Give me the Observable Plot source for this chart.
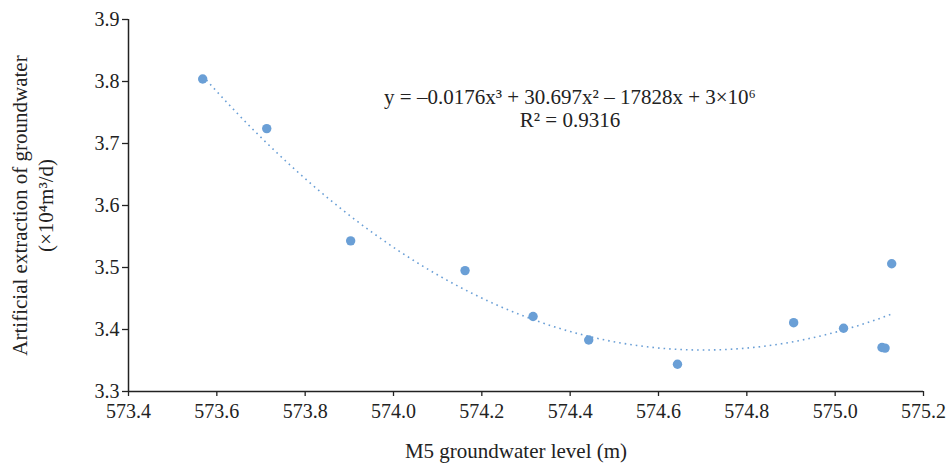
<!DOCTYPE html>
<html>
<head>
<meta charset="utf-8">
<script src="https://cdn.jsdelivr.net/npm/d3@7"></script>
<script src="https://cdn.jsdelivr.net/npm/@observablehq/plot@0.6"></script>
<style>
  html, body { margin: 0; padding: 0; background: #fff; }
  #chart { width: 950px; height: 475px; }
</style>
</head>
<body>
<div id="chart"></div>
<script>
const level = [573.568, 573.713, 573.903, 574.162, 574.316, 574.442, 574.643, 574.906, 575.019, 575.106, 575.113, 575.128];
const extraction = [3.804, 3.724, 3.543, 3.495, 3.421, 3.383, 3.344, 3.411, 3.402, 3.371, 3.370, 3.506];
const xTicks = [573.4, 573.6, 573.8, 574.0, 574.2, 574.4, 574.6, 574.8, 575.0, 575.2];
const yTicks = [3.3, 3.4, 3.5, 3.6, 3.7, 3.8, 3.9];
const equationText = "y = –0.0176x³ + 30.697x² – 17828x + 3×10⁶";
const r2Text = "R² = 0.9316";
const xLabel = "M5 groundwater level (m)";
const yLabel = "Artificial extraction of groundwater\n(×10⁴m³/d)";

const data = level.map((x, i) => ({x, y: extraction[i]}));

// Least-squares cubic trendline fitted to the observed data (centered x for stability)
const x0 = d3.mean(level);
function cubicFit(xs, ys) {
  const n = 4;
  const A = Array.from({length: n}, () => Array(n + 1).fill(0));
  xs.forEach((xv, k) => {
    const t = xv - x0;
    const p = [1, t, t * t, t * t * t];
    for (let i = 0; i < n; i++) {
      for (let j = 0; j < n; j++) A[i][j] += p[i] * p[j];
      A[i][n] += p[i] * ys[k];
    }
  });
  for (let c = 0; c < n; c++) {
    let piv = c;
    for (let r = c + 1; r < n; r++) if (Math.abs(A[r][c]) > Math.abs(A[piv][c])) piv = r;
    [A[c], A[piv]] = [A[piv], A[c]];
    for (let r = 0; r < n; r++) {
      if (r === c) continue;
      const f = A[r][c] / A[c][c];
      for (let j = c; j <= n; j++) A[r][j] -= f * A[c][j];
    }
  }
  return A.map((row, i) => row[n] / row[i]);
}
const coef = cubicFit(level, extraction);
const [xmin, xmax] = d3.extent(level);
const trend = d3.range(0, 201).map(i => {
  const xv = xmin + (xmax - xmin) * i / 200;
  const t = xv - x0;
  return {x: xv, y: coef[0] + coef[1] * t + coef[2] * t * t + coef[3] * t * t * t};
});

const color = "#6a9fd6";

const chart = Plot.plot({
  width: 950,
  height: 475,
  marginLeft: 128,
  marginRight: 27,
  marginTop: 19,
  marginBottom: 84,
  style: {fontFamily: "'Liberation Serif', 'DejaVu Serif', serif", fontSize: "20px", color: "#222", background: "#fff", overflow: "visible"},
  x: {domain: [573.4, 575.2], label: null},
  y: {domain: [3.3, 3.9], label: null},
  marks: [
    Plot.axisX({ticks: xTicks, tickFormat: d3.format(".1f"), tickSize: 5, tickPadding: 7, label: null, stroke: "#222", strokeWidth: 1.3, fontSize: 20}),
    Plot.axisY({ticks: yTicks, tickFormat: d3.format(".1f"), tickSize: 6, tickPadding: 3, label: null, stroke: "#222", strokeWidth: 1.3, fontSize: 20}),
    Plot.ruleX([573.4], {stroke: "#222", strokeWidth: 1.5}),
    Plot.ruleY([3.3], {stroke: "#222", strokeWidth: 1.5}),
    Plot.line(trend, {x: "x", y: "y", stroke: color, strokeWidth: 1.6, strokeDasharray: "1.6,4", strokeLinecap: "butt"}),
    Plot.dot(data, {x: "x", y: "y", r: 4.7, fill: color, stroke: "none"}),
    Plot.text([equationText], {text: d => d, frameAnchor: "top", dx: 44, dy: 70, fontSize: 21, fill: "#222"}),
    Plot.text([r2Text], {text: d => d, frameAnchor: "top", dx: 44, dy: 93, fontSize: 21, fill: "#222"}),
    Plot.text([xLabel], {text: d => d, frameAnchor: "bottom", dx: -10, dy: 66, fontSize: 21, fill: "#222"}),
    Plot.text([yLabel], {text: d => d, frameAnchor: "left", textAnchor: "middle", dx: -97, rotate: -90, fontSize: 21, lineHeight: 1.25, fill: "#222"})
  ]
});
document.getElementById("chart").appendChild(chart);
</script>
</body>
</html>
